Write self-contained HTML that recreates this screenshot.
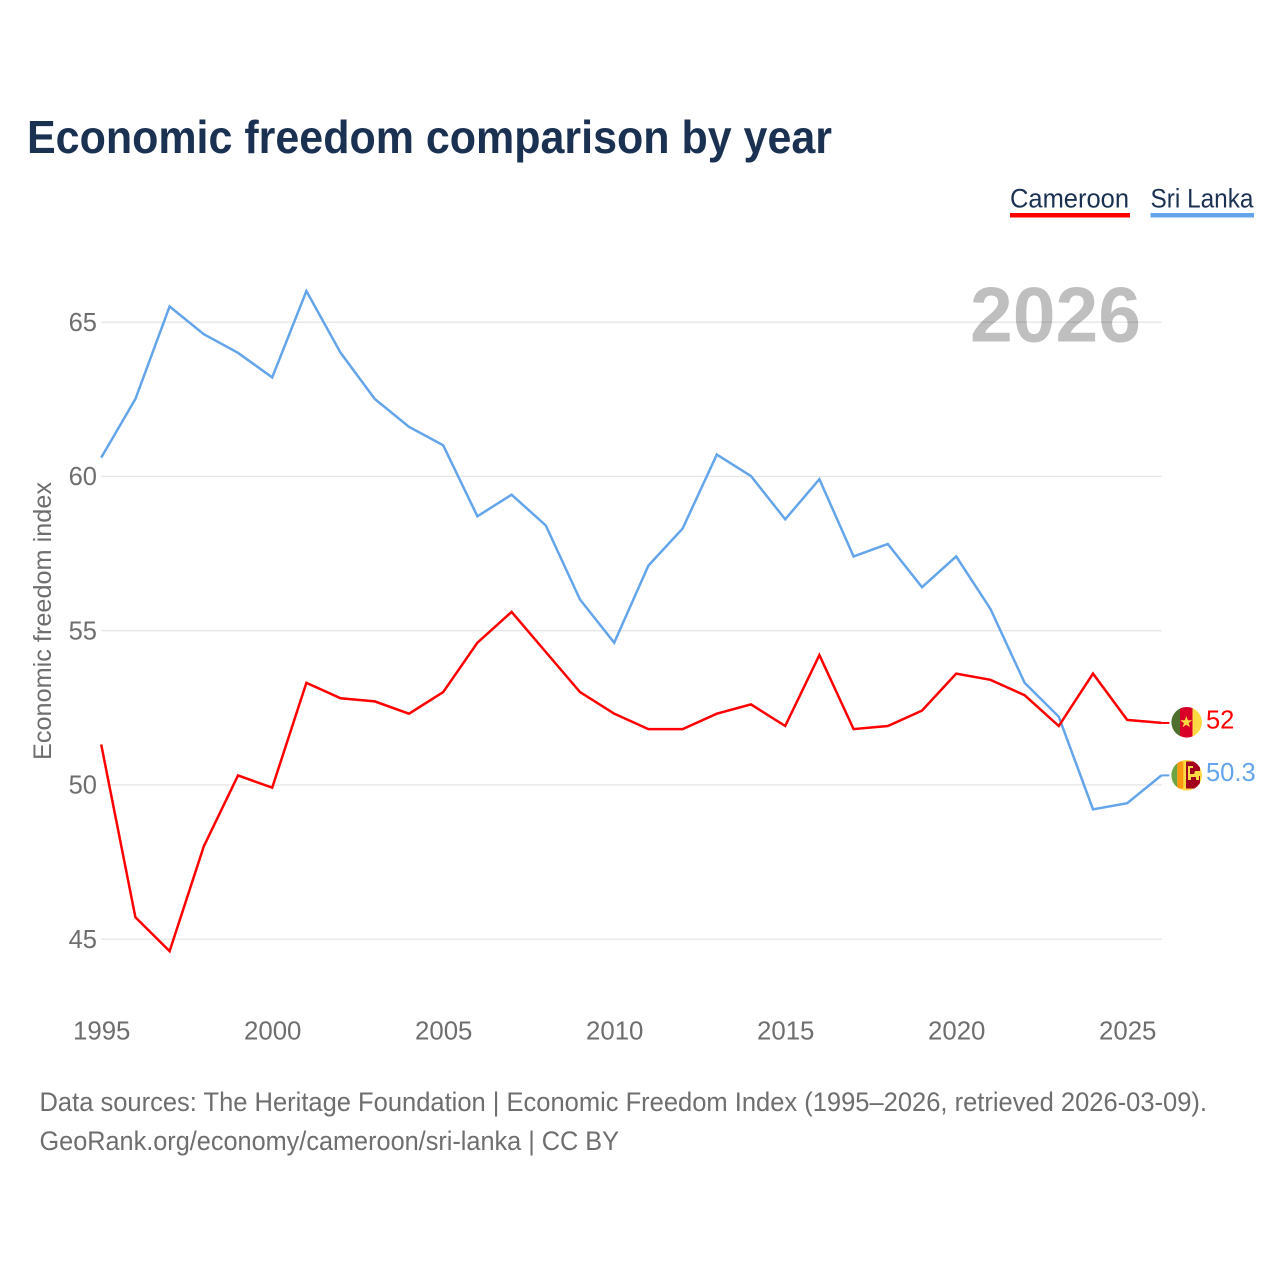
<!DOCTYPE html>
<html lang="en">
<head>
<meta charset="utf-8">
<title>Economic freedom comparison by year</title>
<style>
html,body{margin:0;padding:0;background:#fff;}
svg{display:block;font-family:"Liberation Sans",sans-serif;}
</style>
</head>
<body>
<svg id="chart" xmlns="http://www.w3.org/2000/svg" width="1280" height="1280" viewBox="0 0 1280 1280">
  <rect x="0" y="0" width="1280" height="1280" fill="#ffffff"/>
  <text x="27" y="153" font-size="46" font-weight="700" fill="#1a3152" textLength="805" lengthAdjust="spacingAndGlyphs">Economic freedom comparison by year</text>

  <g>
    <g>
      <text x="1010" y="207.500" font-size="27" fill="#1a3152" textLength="119" lengthAdjust="spacingAndGlyphs">Cameroon</text>
      <rect x="1010" y="213" width="120" height="4.5" fill="#ff0000"/>
    </g>
    <g>
      <text x="1150.500" y="207.500" font-size="27" fill="#1a3152" textLength="103" lengthAdjust="spacingAndGlyphs">Sri Lanka</text>
      <rect x="1150.500" y="213" width="103.500" height="4.5" fill="#64a5ea"/>
    </g>
  </g>

  <g id="grid"></g>
  <text x="970" y="341.500" font-size="78" font-weight="700" fill="#000000" fill-opacity="0.25" textLength="171" lengthAdjust="spacingAndGlyphs">2026</text>
  <g id="yticks"></g>
  <g id="xticks"></g>
  <text transform="translate(51 621) rotate(-90)" text-anchor="middle" font-size="25" fill="#6e6e6e" textLength="278" lengthAdjust="spacingAndGlyphs">Economic freedom index</text>

  <g id="series"></g>

  <defs>
    <clipPath id="clip-cm"><circle cx="1186.700" cy="722.300" r="15.300"/></clipPath>
    <clipPath id="clip-lk"><circle cx="1186.700" cy="775.300" r="15.300"/></clipPath>
  </defs>
  <g clip-path="url(#clip-cm)">
    <rect x="1171" y="706" width="9.500" height="33" fill="#4f6f2f"/>
    <rect x="1180" y="706" width="12.500" height="33" fill="#d80027"/>
    <rect x="1192.500" y="706" width="10" height="33" fill="#ffda44"/>
    <polygon points="1186.300,716 1187.800,720.300 1192.300,720.300 1188.700,723 1190,727.300 1186.300,724.700 1182.600,727.300 1183.900,723 1180.300,720.300 1184.800,720.300" fill="#ffda44"/>
  </g>
  <g clip-path="url(#clip-lk)">
    <rect x="1171" y="759" width="32" height="33" fill="#ffda44"/>
    <rect x="1171" y="761.500" width="6.300" height="27" fill="#6da544"/>
    <rect x="1177.300" y="761.500" width="6" height="27" fill="#ff9811"/>
    <rect x="1186" y="761.500" width="14" height="27" fill="#a2001d"/>
    <path d="M1188 766h5v2h-3v6h4l1-3h6v5h-2v4h-3v-3h-5v3h-3z" fill="#ffda44"/>
  </g>
  <g id="endlabels"></g>

  <text x="39.500" y="1111" font-size="26.500" fill="#6e6e6e" textLength="1167.500" lengthAdjust="spacingAndGlyphs">Data sources: The Heritage Foundation | Economic Freedom Index (1995–2026, retrieved 2026-03-09).</text>
  <text x="39.500" y="1150" font-size="26.500" fill="#6e6e6e" textLength="579.500" lengthAdjust="spacingAndGlyphs">GeoRank.org/economy/cameroon/sri-lanka | CC BY</text>
</svg>
<script>
const years = [1995,1996,1997,1998,1999,2000,2001,2002,2003,2004,2005,2006,2007,2008,2009,2010,2011,2012,2013,2014,2015,2016,2017,2018,2019,2020,2021,2022,2023,2024,2025,2026];
const cameroon = [51.3,45.7,44.6,48.0,50.3,49.9,53.3,52.8,52.7,52.3,53.0,54.6,55.6,54.3,53.0,52.3,51.8,51.8,52.3,52.6,51.9,54.2,51.8,51.9,52.4,53.6,53.4,52.9,51.9,53.6,52.1,52.0];
const sriLanka = [60.6,62.5,65.5,64.6,64.0,63.2,66.0,64.0,62.5,61.6,61.0,58.7,59.4,58.4,56.0,54.6,57.1,58.3,60.7,60.0,58.6,59.9,57.4,57.8,56.4,57.4,55.7,53.3,52.2,49.2,49.4,50.3];
const yTickValues = [45,50,55,60,65];
const xTickValues = [1995,2000,2005,2010,2015,2020,2025];

const NS = 'http://www.w3.org/2000/svg';
function xScale(year){ return 101.2 + (year - 1995) * 34.2; }
function yScale(value){ return 938.9 - (value - 45) * 30.85; }
function make(tag, parent, attrs, text){
  const el = document.createElementNS(NS, tag);
  for (const k in attrs) el.setAttribute(k, attrs[k]);
  if (text !== undefined) el.textContent = text;
  document.getElementById(parent).appendChild(el);
  return el;
}

yTickValues.forEach(function(v){
  const line = make('line', 'grid', {x1:101.5, x2:1161.7, y1:yScale(v) + 0.3, y2:yScale(v) + 0.3, stroke:'#e6e6e6', 'stroke-width':1.3});
  
  
  const label = make('text', 'yticks', {x:97, y:yScale(v) + 9, 'text-anchor':'end', 'font-size':25.5, fill:'#6e6e6e'}, String(v));
  
  
});

xTickValues.forEach(function(y){
  const label = make('text', 'xticks', {x:xScale(y) + 0.5, y:1039.5, 'text-anchor':'middle', 'font-size':25.8, fill:'#6e6e6e'}, String(y));
  
  
});

function drawSeries(values, color, labelName, lineName, leaderName){
  const pts = values.map(function(v, i){ return xScale(years[i]).toFixed(1) + ',' + yScale(v).toFixed(1); }).join(' ');
  const line = make('polyline', 'series', {points:pts, fill:'none', stroke:color, 'stroke-width':2.5, 'stroke-linejoin':'miter'});
  
  
  const last = values[values.length - 1];
  const lastX = xScale(years[years.length - 1]);
  const leader = make('line', 'series', {x1:lastX, x2:lastX + 8, y1:yScale(last), y2:yScale(last), stroke:color, 'stroke-width':2});
  
  
  const label = make('text', 'endlabels', {x:1206, y:yScale(last) + 5.5, 'font-size':25.5, fill:color}, String(last));
  
  
}
drawSeries(sriLanka, '#64a5ea', 'end-label-sri-lanka', 'line-sri-lanka', 'leader-sri-lanka');
drawSeries(cameroon, '#ff0000', 'end-label-cameroon', 'line-cameroon', 'leader-cameroon');
</script>
</body>
</html>
